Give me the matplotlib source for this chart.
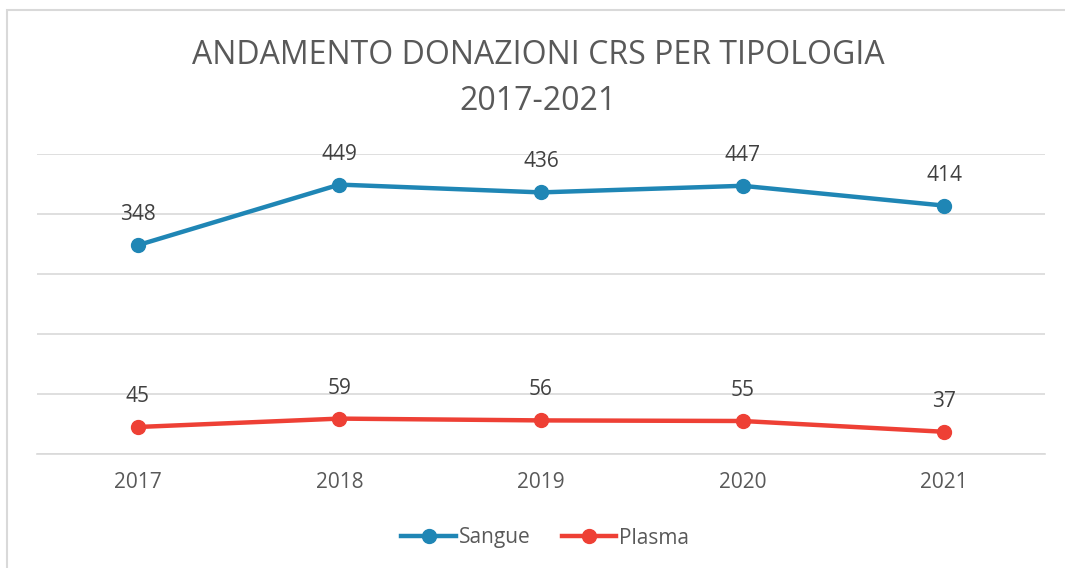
import matplotlib.pyplot as plt
from matplotlib.patches import Rectangle

anni = ['2017', '2018', '2019', '2020', '2021']
sangue = [348, 449, 436, 447, 414]
plasma = [45, 59, 56, 55, 37]

plt.rcParams['font.family'] = ['Open Sans', 'DejaVu Sans']

fig = plt.figure(figsize=(10.65, 5.68), dpi=100)
# bordo del grafico (destra e basso fuori dall'immagine)
fig.patches.append(Rectangle((7 / 1065, -0.1), 1.2, 1.1 - 10 / 568, transform=fig.transFigure,
                             fill=False, edgecolor='#d9d9d9', linewidth=1.5))
ax = fig.add_axes([37 / 1065, 1 - 454 / 568, 1008 / 1065, 300 / 568])

x = range(len(anni))
ax.plot(x, sangue, color='#1f86b5', lw=3.2, marker='o', ms=10, label='Sangue', zorder=3)
ax.plot(x, plasma, color='#ee4035', lw=3.2, marker='o', ms=10, label='Plasma', zorder=3)

for i in x:
    ax.annotate(str(sangue[i]), (i, sangue[i]), xytext=(0, 22), textcoords='offset points',
                ha='center', va='center', fontsize=15, color='#404040')
    ax.annotate(str(plasma[i]), (i, plasma[i]), xytext=(0, 22), textcoords='offset points',
                ha='center', va='center', fontsize=15, color='#404040')

ax.set_xlim(-0.5, 4.5)
ax.set_ylim(0, 500)
ax.set_yticks(range(0, 501, 100))
ax.set_yticklabels([])
ax.grid(axis='y', color='#d9d9d9', lw=1.2)
ax.set_axisbelow(True)
ax.tick_params(axis='y', length=0)
ax.tick_params(axis='x', length=0, pad=13, labelsize=15, labelcolor='#595959')
ax.set_xticks(list(x))
ax.set_xticklabels(anni)
for s in ['top', 'right', 'left']:
    ax.spines[s].set_visible(False)
ax.spines['bottom'].set_color('#d9d9d9')
ax.spines['bottom'].set_linewidth(1.2)

fig.text(0.505, 1 - 56 / 568, 'ANDAMENTO DONAZIONI CRS PER TIPOLOGIA', ha='center', va='center',
         fontsize=23, color='#595959')
fig.text(0.505, 1 - 101 / 568, '2017-2021', ha='center', va='center',
         fontsize=23, color='#595959')

fig.legend(loc='center', bbox_to_anchor=(0.512, 1 - 538 / 568), ncol=2, frameon=False,
           fontsize=15, labelcolor='#595959', handlelength=2.6, handletextpad=0.15, columnspacing=1.5)

fig.savefig('out.png', dpi=100)
